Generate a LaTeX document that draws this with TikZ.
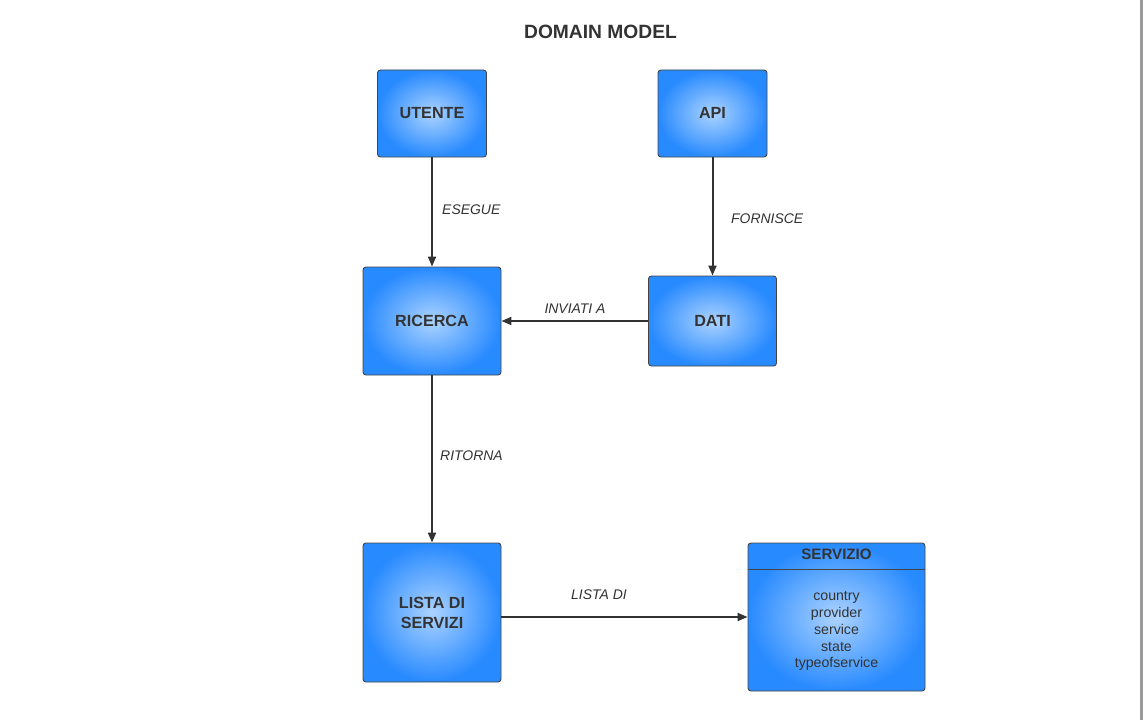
\documentclass[tikz,border=0pt]{standalone}
\usepackage{fontspec}
\setmainfont{Liberation Sans}
\usetikzlibrary{arrows.meta}
\definecolor{txt}{RGB}{51,51,51}
\definecolor{boxout}{RGB}{40,138,255}
\definecolor{boxin}{RGB}{172,211,255}
\definecolor{edge}{RGB}{68,68,68}
\definecolor{sidegrey}{RGB}{155,155,155}
\tikzset{
  entity/.style={rectangle, rounded corners=3bp, draw=edge, line width=0.9bp,
    inner color=boxin, outer color=boxout, text=txt, align=center,
    font=\fontsize{16.2}{20}\selectfont\bfseries, inner sep=0pt},
  rel/.style={draw=txt, line width=2bp, -{Triangle[length=10bp,width=8bp]}},
  rellabel/.style={text=txt, font=\fontsize{14}{17}\selectfont\itshape, inner sep=0pt},
}
\begin{document}
\begin{tikzpicture}[x=1bp,y=-1bp]
\useasboundingbox (0,0) rectangle (1143,720);
\fill[white] (0,0) rectangle (1143,720);
\fill[sidegrey] (1140,0) rectangle (1143,720);

\node[text=txt, font=\fontsize{19.3}{23}\selectfont\bfseries] (title) at (600.5,32) {DOMAIN MODEL};

\node[entity, minimum width=109bp, minimum height=87bp] (utente) at (432,113.5) {\raisebox{1bp}{UTENTE}};
\node[entity, minimum width=109bp, minimum height=87bp] (api) at (712.5,113.5) {\raisebox{1bp}{API}};
\node[entity, minimum width=138bp, minimum height=108bp] (ricerca) at (432,321) {RICERCA};
\node[entity, minimum width=128bp, minimum height=90bp] (dati) at (712.5,321) {DATI};
\node[entity, minimum width=138bp, minimum height=139bp] (lista) at (432,612.5) {LISTA DI\\SERVIZI};
\node[entity, minimum width=177bp, minimum height=148bp] (serv) at (836.5,617) {};
\draw[edge, line width=0.9bp] ([yshift=-27bp]serv.north west) -- ([yshift=-27bp]serv.north east);
\node[text=txt, font=\fontsize{15.2}{18}\selectfont\bfseries] (servtitle) at (836.5,554) {SERVIZIO};
\node[text=txt, font=\fontsize{14.2}{17}\selectfont, align=center] (servattr) at (836.5,631)
  {country\\provider\\service\\state\\typeofservice};

\draw[rel] (utente.south) -- (ricerca.north);
\draw[rel] (api.south) -- (dati.north);
\draw[rel] (dati.west) -- (ricerca.east);
\draw[rel] (ricerca.south) -- (lista.north);
\draw[rel] (lista.east |- serv.west) -- (serv.west);

\node[rellabel, anchor=west] (l1) at (442,210) {ESEGUE};
\node[rellabel, anchor=west] (l2) at (731,219) {FORNISCE};
\node[rellabel] (l3) at (575,309) {INVIATI A};
\node[rellabel, anchor=west] (l4) at (440,456) {RITORNA};
\node[rellabel] (l5) at (599,595) {LISTA DI};
\end{tikzpicture}
\end{document}
